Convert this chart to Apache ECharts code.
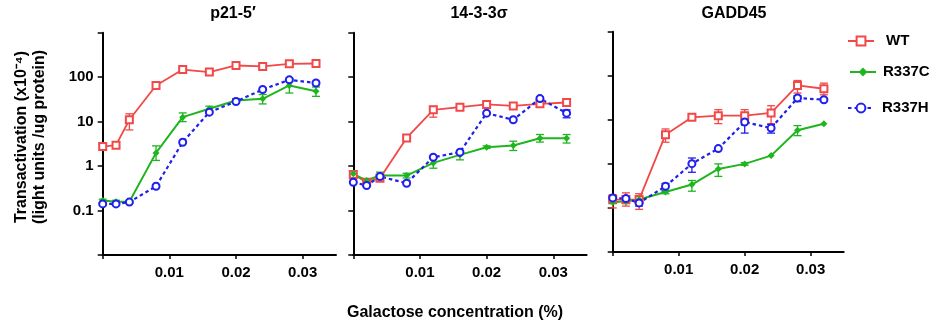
<!DOCTYPE html>
<html>
<head>
<meta charset="utf-8">
<script src="https://cdn.jsdelivr.net/npm/echarts@6/dist/echarts.min.js"></script>
<style>
html,body{margin:0;padding:0;background:#fff;}
#chart{width:934px;height:328px;}
</style>
</head>
<body>
<div id="chart"></div>
<script>
// ---------- data ----------
const conc = [0, 0.002, 0.004, 0.008, 0.012, 0.016, 0.020, 0.024, 0.028, 0.032];
const panelTitles = ['p21-5\u2032', '14-3-3\u03c3', 'GADD45'];
const seriesNames = ['WT', 'R337C', 'R337H'];
const xTickValues = [0, 0.01, 0.02, 0.03];
const xTickLabels = [0.01, 0.02, 0.03];
const yTickValues = [0.01, 0.1, 1, 10, 100, 1000];
const yTickLabels = [0.1, 1, 10, 100];
const xTitle = 'Galactose concentration (%)';
const yTitle = ['Transactivation (x10\u207b\u2074)', '(light units /ug protein)'];

// p21-5'
const p21WT      = [2.75, 2.95, 11, 65, 148, 130, 183, 174, 200, 203];
const p21WTLo    = [2.45, 2.7, 6.5, 55, 136, 120, 170, 160, 185, 185];
const p21WTHi    = [3.1, 3.2, 15, 77, 160, 142, 198, 190, 215, 222];
const p21C       = [0.168, 0.158, 0.158, 1.98, 12.6, 19.4, 29.9, 32.6, 65, 48];
const p21CLo     = [0.15, 0.145, 0.148, 1.34, 10, 16.9, 27, 25, 44, 37];
const p21CHi     = [0.18, 0.17, 0.168, 2.85, 15.7, 22.2, 33, 40.7, 87, 60];
const p21H       = [0.141, 0.141, 0.155, 0.352, 3.44, 16.3, 28.4, 52.8, 87, 74];
const p21HLo     = [null, null, null, null, null, null, null, null, 80, 68];
const p21HHi     = [null, null, null, null, null, null, null, null, 94, 80];

// 14-3-3 sigma
const sigWT      = [0.645, 0.434, 0.533, 4.3, 18.4, 21.1, 24.3, 22.6, 25.1, 26.9];
const sigWTLo    = [0.515, 0.4, 0.49, null, 12.6, null, null, null, null, null];
const sigWTHi    = [0.79, 0.47, 0.58, null, 21.9, null, null, null, null, null];
const sigC       = [0.668, 0.473, 0.613, 0.613, 1.18, 1.79, 2.66, 2.9, 4.24, 4.24];
const sigCLo     = [0.58, 0.44, 0.47, 0.54, 0.895, 1.38, 2.5, 2.24, 3.47, 3.3];
const sigCHi     = [0.76, 0.5, 0.73, 0.69, 1.53, 2.24, 2.85, 3.63, 5.13, 5.13];
const sigH       = [0.434, 0.365, 0.582, 0.412, 1.58, 2.05, 15.5, 11, 33, 15.5];
const sigHLo     = [null, null, null, null, null, null, null, null, 30, 12.2];
const sigHHi     = [null, null, null, null, null, null, null, null, 36, 18.4];

// GADD45
const gadWT      = [0.155, 0.155, 0.155, 4.6, 11.4, 12.4, 12.4, 14.3, 60.5, 50.7];
const gadWTLo    = [0.1, 0.11, 0.093, 3.1, 10.1, 8.2, 9.2, 8.2, 40.5, 37];
const gadWTHi    = [0.2, 0.22, 0.21, 6.2, 12.4, 17, 17, 20.9, 78, 68];
const gadC       = [0.135, 0.142, 0.155, 0.231, 0.339, 0.767, 1.0, 1.54, 5.77, 8.17];
const gadCLo     = [0.125, 0.125, 0.13, 0.21, 0.24, 0.52, 0.93, null, 4.37, null];
const gadCHi     = [0.145, 0.16, 0.175, 0.25, 0.42, 1.0, 1.07, null, 7.4, null];
const gadH       = [0.169, 0.163, 0.13, 0.31, 1.01, 2.22, 8.9, 6.5, 31.2, 28.6];
const gadHLo     = [0.15, 0.14, 0.11, 0.24, 0.645, null, 5, 5, 26, null];
const gadHHi     = [0.19, 0.18, 0.155, 0.36, 1.36, null, 13, 7.8, 35, null];

const panels = [
  [[p21WT, p21WTLo, p21WTHi], [p21C, p21CLo, p21CHi], [p21H, p21HLo, p21HHi]],
  [[sigWT, sigWTLo, sigWTHi], [sigC, sigCLo, sigCHi], [sigH, sigHLo, sigHHi]],
  [[gadWT, gadWTLo, gadWTHi], [gadC, gadCLo, gadCHi], [gadH, gadHLo, gadHHi]]
];

// ---------- styles ----------
const FONT = '"Liberation Sans", Arial, sans-serif';
const colors = ['#f24848', '#1fb51f', '#1f1fee'];
const gridBoxes = [
  {left: 102.7, top: 32.7, width: 233.3, height: 222.3},
  {left: 353.3, top: 32.7, width: 233.3, height: 222.3},
  {left: 612.7, top: 31.7, width: 231, height: 220.3}
];
const titleCenters = [[233, 13.5], [479, 13.5], [734, 13.5]];
const seriesStyles = [
  {symbol: 'emptyRect', symbolSize: 7, lineStyle: {width: 1.8, type: 'solid'}, itemStyle: {borderWidth: 1.3}},
  {symbol: 'diamond', symbolSize: 7, lineStyle: {width: 2, type: 'solid'}, itemStyle: {borderWidth: 0}},
  {symbol: 'emptyCircle', symbolSize: 7, lineStyle: {width: 2.2, type: [3.5, 3]}, itemStyle: {borderWidth: 1.6}}
];

function errRender(params, api) {
  const x = api.value(0), lo = api.value(1), hi = api.value(2);
  const p1 = api.coord([x, lo]), p2 = api.coord([x, hi]);
  const w = 4;
  const style = {stroke: api.visual('color'), lineWidth: 1.3, fill: null};
  return {type: 'group', children: [
    {type: 'line', shape: {x1: p1[0], y1: p1[1], x2: p2[0], y2: p2[1]}, style: style},
    {type: 'line', shape: {x1: p1[0] - w, y1: p1[1], x2: p1[0] + w, y2: p1[1]}, style: style},
    {type: 'line', shape: {x1: p2[0] - w, y1: p2[1], x2: p2[0] + w, y2: p2[1]}, style: style}
  ]};
}

const grids = [], xAxes = [], yAxes = [], series = [];
gridBoxes.forEach(function (g, i) {
  grids.push(Object.assign({containLabel: false}, g));
  xAxes.push({
    type: 'value', gridIndex: i, min: 0, max: 0.035,
    axisLine: {show: true, lineStyle: {color: '#000', width: 2}},
    axisTick: {show: true, length: 4, lineStyle: {color: '#000', width: 1.5}, customValues: xTickValues},
    axisLabel: {show: true, customValues: xTickLabels, formatter: function (v) { return v.toFixed(2); },
      color: '#000', fontFamily: FONT, fontWeight: 'bold', fontSize: 15, margin: 10},
    splitLine: {show: false}
  });
  yAxes.push({
    type: 'log', logBase: 10, gridIndex: i, min: 0.01, max: 1000,
    axisLine: {show: true, lineStyle: {color: '#000', width: 2}},
    axisTick: {show: true, length: 5, lineStyle: {color: '#000', width: 1.5}, customValues: yTickValues},
    axisLabel: {show: i === 0, customValues: yTickLabels, formatter: function (v) { return String(v); },
      color: '#000', fontFamily: FONT, fontWeight: 'bold', fontSize: 15, margin: 9},
    splitLine: {show: false}
  });
  panels[i].forEach(function (s, k) {
    const lo = s[1], hi = s[2];
    const errData = [];
    conc.forEach(function (x, j) {
      if (lo[j] != null && hi[j] != null) errData.push([x, lo[j], hi[j]]);
    });
    series.push({
      type: 'custom', name: seriesNames[k] + ' err', xAxisIndex: i, yAxisIndex: i,
      renderItem: errRender, data: errData, encode: {x: 0, y: [1, 2]},
      itemStyle: {color: colors[k]}, silent: true, z: 2
    });
  });
  panels[i].forEach(function (s, k) {
    const st = seriesStyles[k];
    series.push({
      type: 'line', name: seriesNames[k], xAxisIndex: i, yAxisIndex: i,
      data: conc.map(function (x, j) { return [x, s[0][j]]; }),
      symbol: st.symbol, symbolSize: st.symbolSize, showAllSymbol: true,
      lineStyle: Object.assign({color: colors[k]}, st.lineStyle),
      itemStyle: Object.assign({color: colors[k], borderColor: colors[k]}, st.itemStyle),
      animation: false, z: 3
    });
  });
});

const graphics = [];
panelTitles.forEach(function (t, i) {
  graphics.push({type: 'text', x: titleCenters[i][0], y: titleCenters[i][1],
    style: {text: t, fill: '#000', font: 'bold 16px ' + FONT, textAlign: 'center', textVerticalAlign: 'middle'}});
});
graphics.push({type: 'text', x: 455, y: 313,
  style: {text: xTitle, fill: '#000', font: 'bold 16px ' + FONT, textAlign: 'center', textVerticalAlign: 'middle'}});
graphics.push({type: 'text', x: 22, y: 137, rotation: Math.PI / 2,
  style: {text: yTitle[0], fill: '#000', font: 'bold 16px ' + FONT, textAlign: 'center', textVerticalAlign: 'middle'}});
graphics.push({type: 'text', x: 39.5, y: 137, rotation: Math.PI / 2,
  style: {text: yTitle[1], fill: '#000', font: 'bold 16px ' + FONT, textAlign: 'center', textVerticalAlign: 'middle'}});

const legendTops = [33.5, 64.5, 100.5];
const legendLefts = [847, 849, 847];
const legendPads = [7, 2, 3];
const legends = seriesNames.map(function (n, k) {
  return {data: [n], orient: 'vertical', left: legendLefts[k], top: legendTops[k], padding: 0,
    itemWidth: 26, itemHeight: 11, selectedMode: false,
    textStyle: {color: '#000', fontFamily: FONT, fontWeight: 'bold', fontSize: 15, padding: [0, 0, 0, legendPads[k]]}};
});

const chart = echarts.init(document.getElementById('chart'), null, {renderer: 'canvas'});
chart.setOption({
  animation: false,
  backgroundColor: '#fff',
  grid: grids, xAxis: xAxes, yAxis: yAxes, series: series,
  legend: legends, graphic: graphics
});
</script>
</body>
</html>
